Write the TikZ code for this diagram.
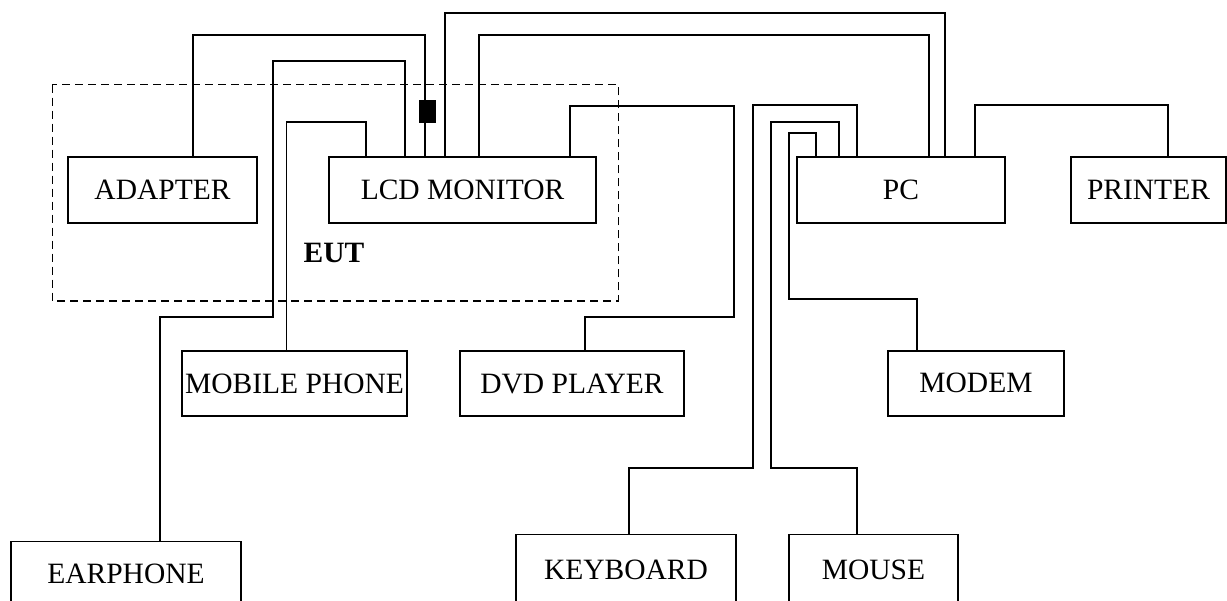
\documentclass[tikz,border=0pt]{standalone}
\usepackage{fontspec}
\setmainfont{Liberation Serif}
\begin{document}
\begin{tikzpicture}[x=1pt,y=-1pt,
  box/.style={draw, line width=1.5pt, inner sep=0pt, minimum height=66pt, anchor=center,
    font=\fontsize{29.5}{34}\selectfont},
  cable/.style={line width=2pt, line join=miter},
  thincable/.style={line width=1.4pt},
  eutbox/.style={draw, line width=1.4pt, dash pattern=on 8pt off 5pt},
  ferrite/.style={fill=black, draw=none, inner sep=0pt, minimum width=16.7pt, minimum height=22.7pt}]
\clip (0,0) rectangle (1227,601);
% EUT region
\draw[eutbox] (52.3,84.7) rectangle (618.3,301);
\node[font=\fontsize{29.5}{34}\selectfont\bfseries] (eut) at (334,253) {EUT};
% boxes
\node[box, minimum width=189pt] (adapter) at (162.5,190) {ADAPTER};
\node[box, minimum width=267pt] (lcd) at (462.5,190) {LCD MONITOR};
\node[box, minimum width=208pt] (pc) at (901,190) {PC};
\node[box, minimum width=155pt] (printer) at (1148.5,190) {PRINTER};
\node[box, minimum width=225pt, minimum height=65pt] (mobile) at (294.5,383.5) {MOBILE PHONE};
\node[box, minimum width=224pt, minimum height=65pt] (dvd) at (572,383.5) {DVD PLAYER};
\node[box, minimum width=176pt, minimum height=65pt] (modem) at (976,383.3) {MODEM};
\node[box, minimum width=230pt] (earphone) at (126,574.3) {EARPHONE};
\node[box, minimum width=220pt, minimum height=70pt] (keyboard) at (626,569.7) {KEYBOARD};
\node[box, minimum width=169pt, minimum height=70pt] (mouse) at (873.5,569.7) {MOUSE};
% cables
\draw[cable] ([xshift=125.3pt]adapter.north west) -- ++(0,-121) -| ([xshift=96.7pt]lcd.north west);
\node[ferrite] (core) at (427.6,111.3) {};
\draw[cable] ([xshift=77pt]lcd.north west) -- ++(0,-95) -- ++(-132,0) -- ++(0,256) -| ([xshift=149.7pt]earphone.north west);
\draw[thincable] ([xshift=37.7pt]lcd.north west) -- ++(0,-34.3) -| ([xshift=105pt]mobile.north west);
\draw[cable] ([xshift=116.7pt]lcd.north west) -- ++(0,-143) -| ([xshift=148.7pt]pc.north west);
\draw[cable] ([xshift=150.3pt]lcd.north west) -- ++(0,-121) -| ([xshift=132.3pt]pc.north west);
\draw[cable] ([xshift=242pt]lcd.north west) -- ++(0,-50.3) -- ++(164,0) -- ++(0,210.6) -| ([xshift=125.4pt]dvd.north west);
\draw[cable] ([xshift=60.3pt]pc.north west) -- ++(0,-51) -- ++(-104,0) -- ++(0,362.3) -| ([xshift=113.3pt]keyboard.north west);
\draw[cable] ([xshift=42.3pt]pc.north west) -- ++(0,-34.3) -- ++(-67.6,0) -- ++(0,345.6) -| ([xshift=68.4pt]mouse.north west);
\draw[cable] ([xshift=19.7pt]pc.north west) -- ++(0,-23) -- ++(-27.4,0) -- ++(0,165.3) -| ([xshift=29.7pt]modem.north west);
\draw[cable] ([xshift=179pt]pc.north west) -- ++(0,-51) -| ([xshift=97.6pt]printer.north west);
\end{tikzpicture}
\end{document}
